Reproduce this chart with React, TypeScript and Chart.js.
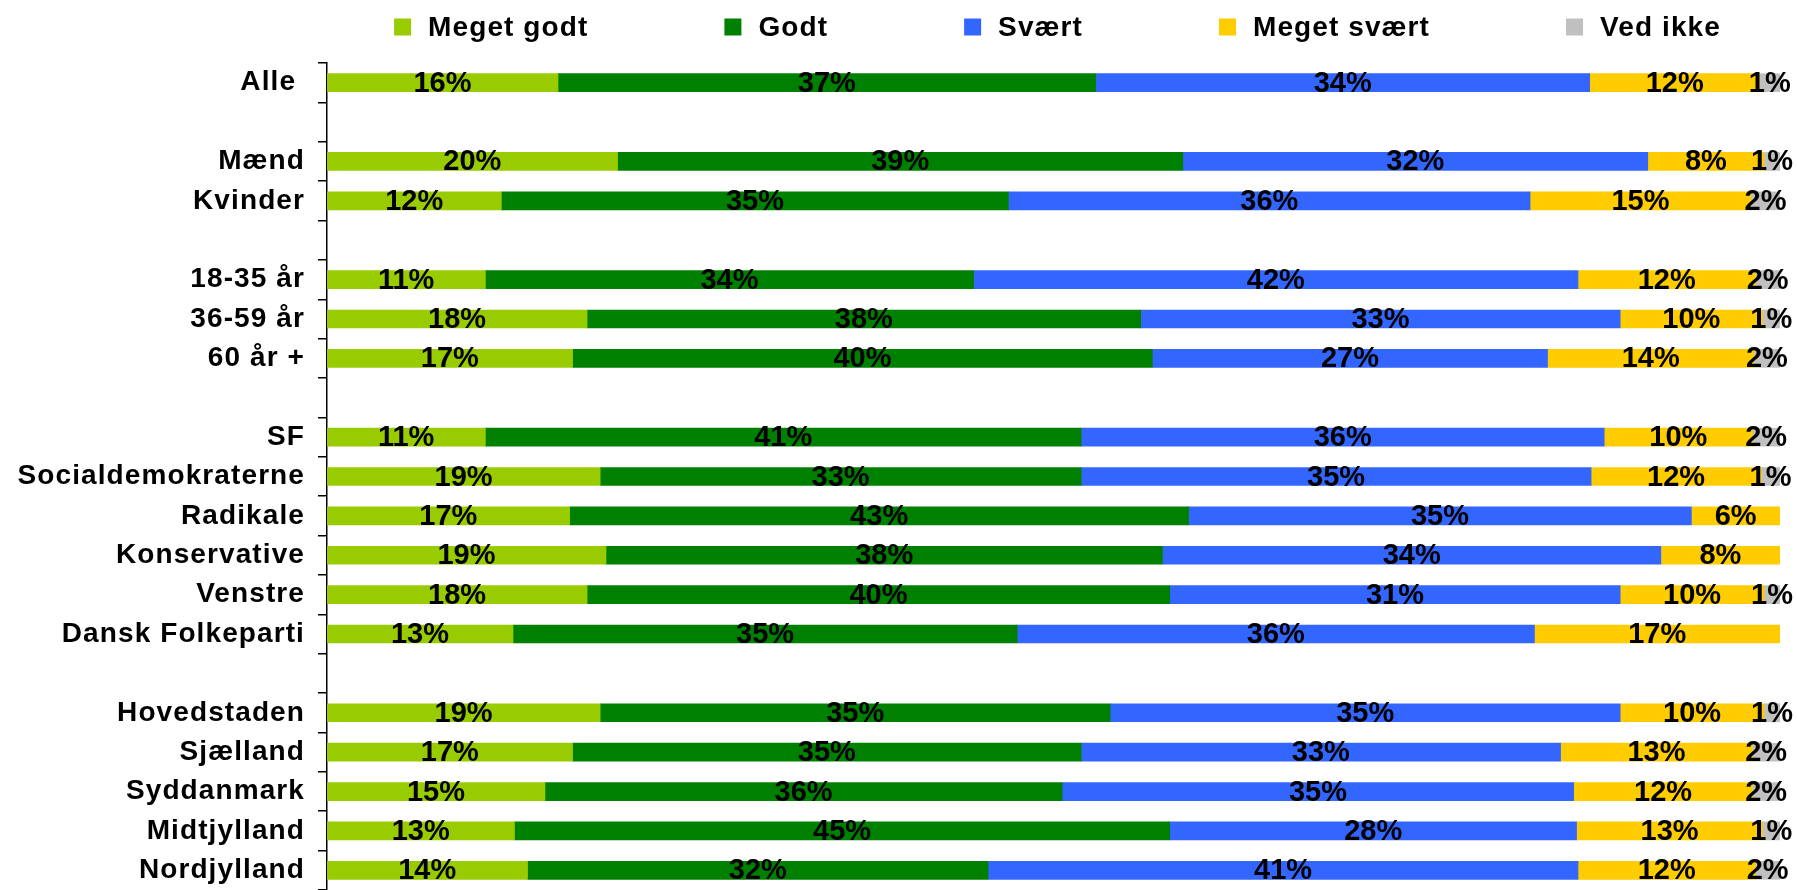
import React, { useEffect, useRef } from 'react';
import { Chart, registerables } from 'chart.js';

Chart.register(...registerables);

const categories = [
  'Alle ', '', 'Mænd', 'Kvinder', '', '18-35 år', '36-59 år', '60 år +', '',
  'SF', 'Socialdemokraterne', 'Radikale', 'Konservative', 'Venstre', 'Dansk Folkeparti', '',
  'Hovedstaden', 'Sjælland', 'Syddanmark', 'Midtjylland', 'Nordjylland',
];

const seriesNames = ['Meget godt', 'Godt', 'Svært', 'Meget svært', 'Ved ikke'];
const seriesColors = ['#99CC00', '#008000', '#3366FF', '#FFCC00', '#C0C0C0'];

const megetGodt = [15.9, null, 20.0, 12.0, null, 10.9, 17.9, 16.9, null, 10.9, 18.8, 16.7, 19.2, 17.9, 12.8, null, 18.8, 16.9, 15.0, 12.9, 13.8];
const godt = [37.0, null, 38.9, 34.9, null, 33.6, 38.1, 39.9, null, 41.0, 33.1, 42.6, 38.3, 40.1, 34.7, null, 35.1, 35.0, 35.6, 45.1, 31.7];
const svaert = [34.0, null, 32.0, 35.9, null, 41.6, 33.0, 27.2, null, 36.0, 35.1, 34.6, 34.3, 31.0, 35.6, null, 35.1, 33.0, 35.2, 28.0, 40.6];
const megetSvaert = [11.7, null, 8.0, 15.2, null, 12.2, 9.8, 14.2, null, 10.2, 11.7, 6.1, 8.2, 9.9, 16.9, null, 9.9, 13.2, 12.3, 12.8, 12.2];
const vedIkke = [1.4, null, 1.1, 2.0, null, 1.7, 1.2, 1.8, null, 1.9, 1.3, 0, 0, 1.1, 0, null, 1.1, 1.9, 1.9, 1.2, 1.7];

const seriesValues = [megetGodt, godt, svaert, megetSvaert, vedIkke];

const FONT_FAMILY = '"Liberation Sans", Arial, sans-serif';
const LABEL_SPACING = '1.1px';

const spacingPlugin = {
  id: 'letterSpacing',
  beforeUpdate(chart: any) {
    (chart.ctx as any).letterSpacing = LABEL_SPACING;
  },
  beforeDraw(chart: any) {
    (chart.ctx as any).letterSpacing = LABEL_SPACING;
  },
};

const customLegend = {
  id: 'customLegend',
  afterDraw(chart: any) {
    const ctx = chart.ctx;
    const area = chart.chartArea;
    ctx.save();
    ctx.font = `bold 28px ${FONT_FAMILY}`;
    (ctx as any).letterSpacing = LABEL_SPACING;
    ctx.textBaseline = 'middle';
    ctx.textAlign = 'left';
    const box = 17;
    const boxGap = 17;
    const itemGap = 136;
    const ds = chart.data.datasets;
    const widths = ds.map((d: any) => ctx.measureText(d.label).width);
    const total = widths.reduce((a: number, w: number) => a + box + boxGap + w, 0) + itemGap * (ds.length - 1);
    let x = (area.left + area.right) / 2 - total / 2 + 4;
    const cy = 27;
    ds.forEach((d: any, i: number) => {
      ctx.fillStyle = d.backgroundColor;
      ctx.fillRect(x, cy - box / 2, box, box);
      ctx.fillStyle = '#000';
      ctx.fillText(d.label, x + box + boxGap, cy + 1);
      x += box + boxGap + widths[i] + itemGap;
    });
    ctx.restore();
  },
};

const dataLabels = {
  id: 'dataLabels',
  afterDatasetsDraw(chart: any) {
    const ctx = chart.ctx;
    ctx.save();
    ctx.font = `bold 29px ${FONT_FAMILY}`;
    (ctx as any).letterSpacing = '0px';
    ctx.fillStyle = '#000';
    ctx.textAlign = 'center';
    ctx.textBaseline = 'middle';
    chart.data.datasets.forEach((d: any, i: number) => {
      const meta = chart.getDatasetMeta(i);
      meta.data.forEach((bar: any, j: number) => {
        const v = d.data[j];
        if (v == null || v < 0.5) return;
        const cx = (bar.x + bar.base) / 2;
        ctx.fillText(`${Math.round(v)}%`, cx, bar.y + 1);
      });
    });
    ctx.restore();
  },
};

export default function App() {
  const ref = useRef<HTMLCanvasElement | null>(null);

  useEffect(() => {
    if (!ref.current) return;
    const chart = new Chart(ref.current, {
      type: 'bar',
      data: {
        labels: categories,
        datasets: seriesNames.map((name, i) => ({
          label: name,
          data: seriesValues[i],
          backgroundColor: seriesColors[i],
          borderWidth: 0,
          barThickness: 18,
        })),
      },
      options: {
        indexAxis: 'y',
        animation: false,
        responsive: false,
        maintainAspectRatio: false,
        devicePixelRatio: 1,
        layout: { padding: { top: 63, right: 18, bottom: -3, left: 0 } },
        plugins: {
          legend: { display: false },
          tooltip: { enabled: false },
        },
        scales: {
          x: { display: false, stacked: true, min: 0, max: 100 },
          y: {
            stacked: true,
            offset: true,
            grid: {
              display: true,
              offset: true,
              drawOnChartArea: false,
              drawTicks: true,
              tickLength: 9,
              color: '#000',
              lineWidth: 1.5,
            },
            border: { display: true, color: '#000', width: 1.5 },
            ticks: {
              color: '#000',
              padding: 13,
              autoSkip: false,
              font: { family: FONT_FAMILY, weight: 'bold', size: 28 },
            },
            afterFit: (s: any) => {
              s.width = 327;
              s.paddingTop = 0;
              s.paddingBottom = 0;
            },
          },
        },
      } as any,
      plugins: [spacingPlugin, dataLabels, customLegend],
    });
    return () => chart.destroy();
  }, []);

  return (
    <div style={{ position: 'absolute', left: 0, top: 0, width: 1798, height: 890, background: '#fff' }}>
      <canvas ref={ref} width={1798} height={890} style={{ display: 'block' }} />
    </div>
  );
}
